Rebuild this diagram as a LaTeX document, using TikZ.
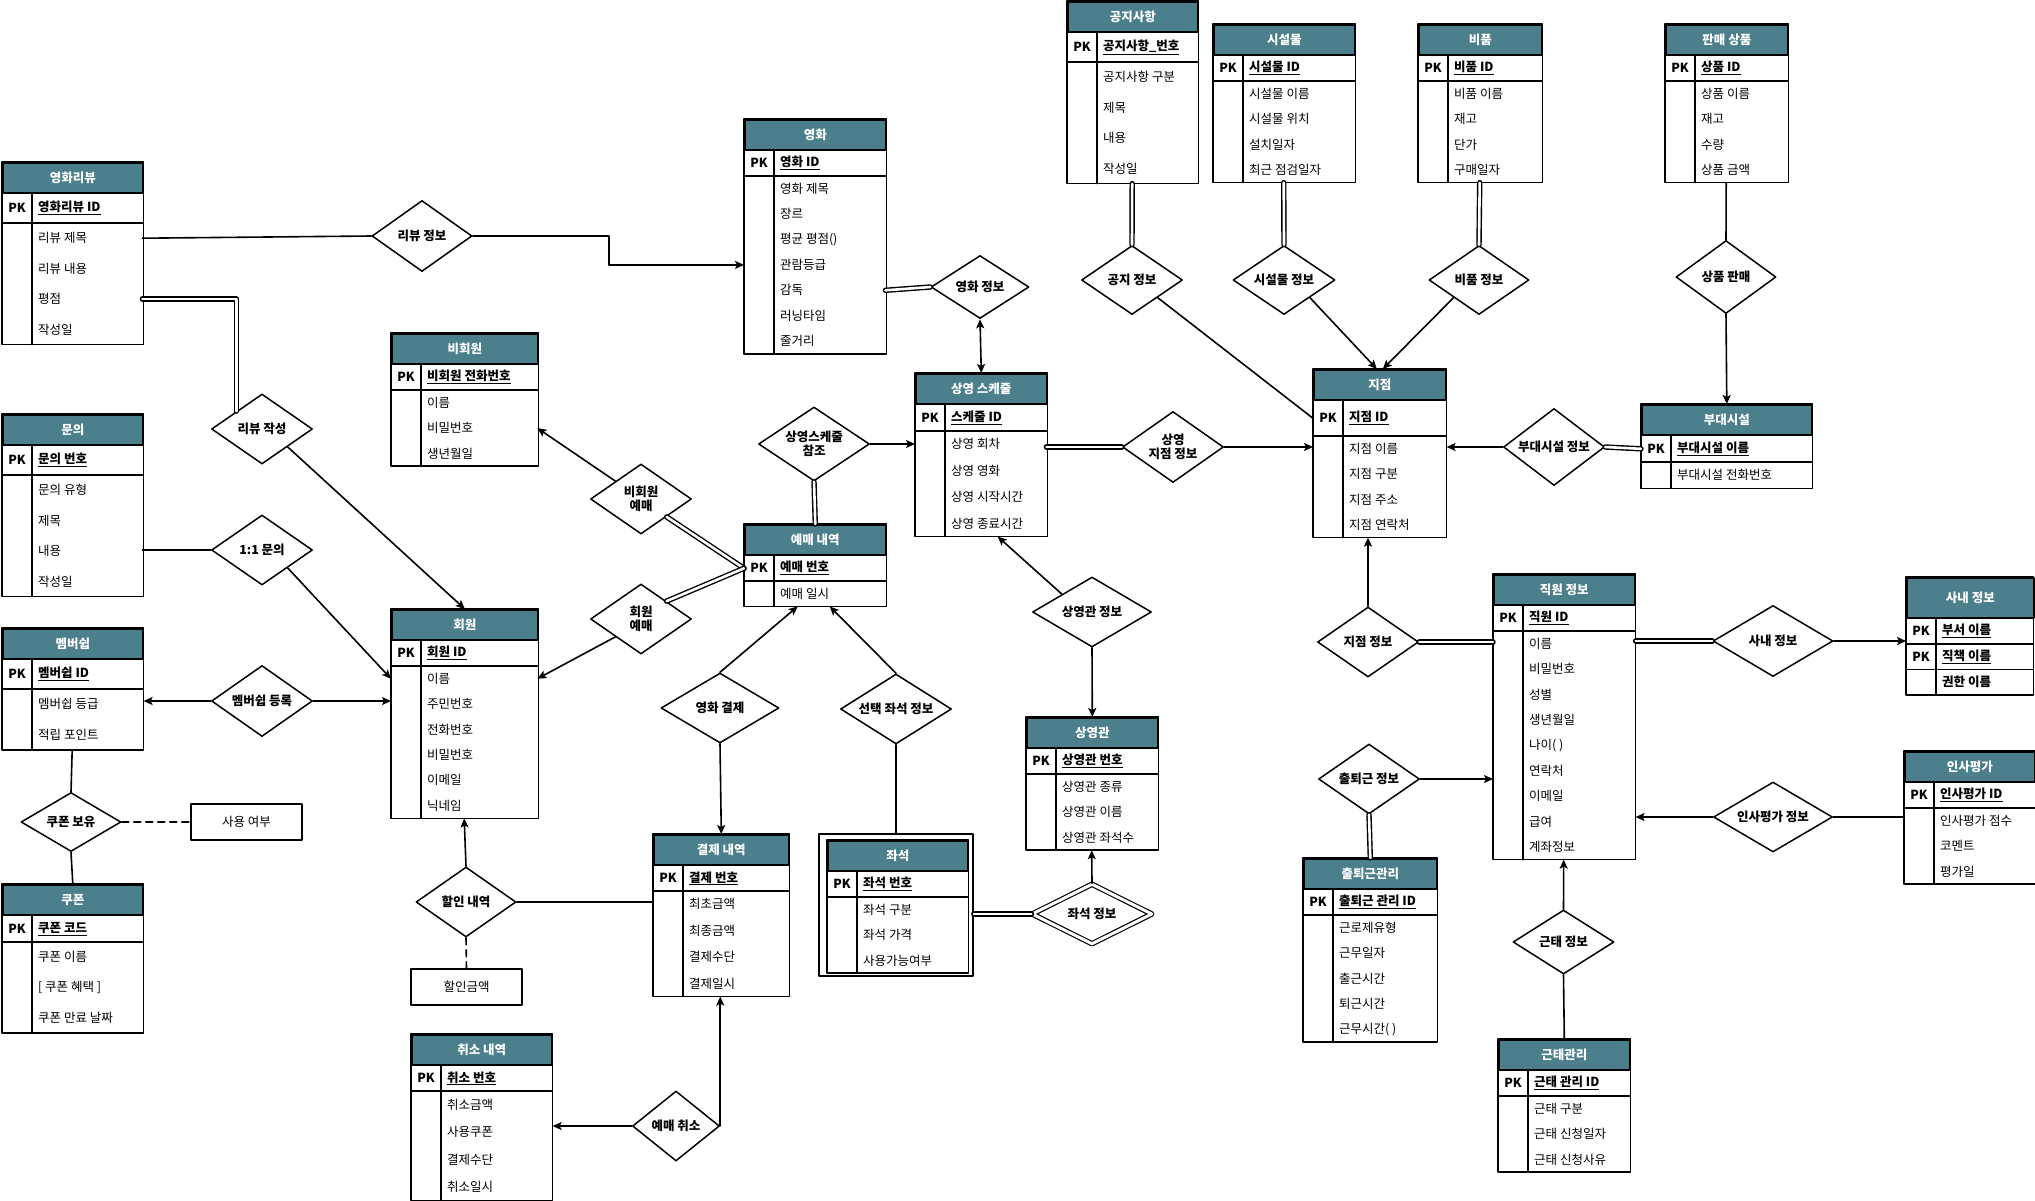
\documentclass[tikz,border=0pt]{standalone}
\usepackage{fontspec}
\setmainfont{Noto Sans CJK KR}
\usetikzlibrary{arrows.meta,shapes.geometric}
\definecolor{hdrteal}{HTML}{4A7F8B}

\begin{document}
\begin{tikzpicture}[x=1pt,y=-1pt,line cap=round,line join=round,
  >={Stealth[length=9pt,width=8pt,inset=2pt]},
  every node/.style={inner sep=0pt,font=\fontsize{12.5}{14.5}\selectfont},
  entline/.style={line width=1.6pt},
  enthead/.style={draw,entline,fill=hdrteal,text=white,font=\fontsize{12.5}{14.5}\selectfont\bfseries,minimum height=30pt,anchor=north west},
  cell/.style={anchor=north west},
  attr/.style={anchor=west},
  key/.style={anchor=west,font=\fontsize{12.5}{14.5}\selectfont\bfseries},
  pk/.style={font=\fontsize{12.5}{14.5}\selectfont\bfseries},
  rel/.style 2 args={diamond,draw,line width=1.5pt,fill=white,shape aspect=1.5,align=center,
    font=\fontsize{12.5}{14.5}\selectfont\bfseries,minimum width=#1pt,minimum height=#2pt},
  attrbox/.style={draw,line width=1.5pt,minimum width=111pt,minimum height=36pt},
  link/.style={line width=1.6pt},
  dbl/.style={line width=1.4pt,double,double distance=2.6pt},
  dashlink/.style={line width=1.6pt,dash pattern=on 7pt off 5pt}]
  \useasboundingbox (0,0) rectangle (2035,1200);
  \def\entity#1#2#3#4#5#6#7#8#9{%
    \node[enthead,minimum width=#4pt] (#1) at (#2,#3) {#7};
    \node[cell,minimum width=#4pt,minimum height=#5pt] (#1-k) at (#1.south west) {};
    \node[pk] (#1-p) at ([xshift=15pt]#1-k.west) {PK};
    \node[key] (#1-n) at ([xshift=36pt]#1-k.west) {\underline{#8}};
    \coordinate (#1-e) at (#1-k.south west);
    \foreach \a [count=\i] in {#9} {
      \node[cell,minimum width=#4pt,minimum height=#6pt] (#1-\i) at (#1-e) {};
      \node[attr] (#1-t\i) at ([xshift=36pt]#1-\i.west) {\a};
      \coordinate (#1-e) at (#1-\i.south west);
    }
    \draw[entline] (#1-k.south west) -- (#1-k.south east)
      ([xshift=30pt]#1-k.north west) -- ([xshift=30pt]#1-e)
      (#1.north west) rectangle (#1-e -| #1.east);
  }

  \entity{rev}{2}{162}{140}{29}{30}{영화리뷰}{영화리뷰 ID}{리뷰 제목,리뷰 내용,평점,작성일}
  \entity{mov}{744}{119}{141}{25}{25}{영화}{영화 ID}{영화 제목,장르,평균 평점(),관람등급,감독,러닝타임,줄거리}
  \entity{nmem}{391}{333}{146}{25}{25}{비회원}{비회원 전화번호}{이름,비밀번호,생년월일}
  \entity{inq}{2}{414}{140}{29}{30}{문의}{문의 번호}{문의 유형,제목,내용,작성일}
  \entity{mem}{391}{609}{146}{25}{25}{회원}{회원 ID}{이름,주민번호,전화번호,비밀번호,이메일,닉네임}
  \entity{ship}{2}{628}{140}{29}{30}{멤버쉽}{멤버쉽 ID}{멤버쉽 등급,적립 포인트}
  \entity{cpn}{2}{884}{140}{26}{30}{쿠폰}{쿠폰 코드}{쿠폰 이름,{[ 쿠폰 혜택 ]},쿠폰 만료 날짜}
  \entity{sched}{915}{373}{131}{26}{26}{상영 스케줄}{스케줄 ID}{상영 회차,상영 영화,상영 시작시간,상영 종료시간}
  \entity{book}{744}{524}{141}{25}{25}{예매 내역}{예매 번호}{예매 일시}
  \entity{pay}{653}{834}{135}{25}{26}{결제 내역}{결제 번호}{최초금액,최종금액,결제수단,결제일시}
  \node[draw,entline,minimum width=154pt,minimum height=142pt] (seatw) at (896,905) {};
  \entity{seat}{827}{840}{140}{25}{25}{좌석}{좌석 번호}{좌석 구분,좌석 가격,사용가능여부}
  \entity{hall}{1026}{717}{131}{25}{25}{상영관}{상영관 번호}{상영관 종류,상영관 이름,상영관 좌석수}
  \entity{brn}{1313}{369}{132}{35}{25}{지점}{지점 ID}{지점 이름,지점 구분,지점 주소,지점 연락처}
  \entity{notice}{1067}{1}{130}{29}{30}{공지사항}{공지사항\_번호}{공지사항 구분,제목,내용,작성일}
  \entity{fac}{1213}{24}{141}{25}{25}{시설물}{시설물 ID}{시설물 이름,시설물 위치,설치일자,최근 점검일자}
  \entity{item}{1418}{24}{123}{25}{25}{비품}{비품 ID}{비품 이름,재고,단가,구매일자}
  \entity{prod}{1665}{24}{122}{25}{25}{판매 상품}{상품 ID}{상품 이름,재고,수량,상품 금액}
  \entity{annex}{1641}{404}{170}{26}{26}{부대시설}{부대시설 이름}{부대시설 전화번호}
  \entity{emp}{1493}{574}{141}{25}{25}{직원 정보}{직원 ID}{이름,비밀번호,성별,생년월일,나이( ),연락처,이메일,급여,계좌정보}
  \entity{eval}{1904}{751}{130}{25}{25}{인사평가}{인사평가 ID}{인사평가 점수,코멘트,평가일}
  \entity{att}{1303}{858}{133}{25}{25}{출퇴근관리}{출퇴근 관리 ID}{근로제유형,근무일자,출근시간,퇴근시간,근무시간( )}
  \entity{lv}{1498}{1039}{131}{25}{25}{근태관리}{근태 관리 ID}{근태 구분,근태 신청일자,근태 신청사유}
  \entity{cancel}{411}{1034}{140}{25}{27}{취소 내역}{취소 번호}{취소금액,사용쿠폰,결제수단,취소일시}

  \node[enthead,minimum width=127pt,minimum height=40pt] (dept) at (1906,577) {사내 정보};
  \node[cell,minimum width=127pt,minimum height=25pt] (dept-1) at (dept.south west) {};
  \node[cell,minimum width=127pt,minimum height=25pt] (dept-2) at (dept-1.south west) {};
  \node[cell,minimum width=127pt,minimum height=25pt] (dept-3) at (dept-2.south west) {};
  \node[pk] (dept-p1) at ([xshift=15pt]dept-1.west) {PK};
  \node[pk] (dept-p2) at ([xshift=15pt]dept-2.west) {PK};
  \node[key] (dept-t1) at ([xshift=36pt]dept-1.west) {\underline{부서 이름}};
  \node[key] (dept-t2) at ([xshift=36pt]dept-2.west) {\underline{직책 이름}};
  \node[key] (dept-t3) at ([xshift=36pt]dept-3.west) {권한 이름};
  \draw[entline] (dept-1.south west) -- (dept-1.south east) (dept-2.south west) -- (dept-2.south east)
    ([xshift=30pt]dept-1.north west) -- ([xshift=30pt]dept-3.south west)
    (dept.north west) rectangle (dept-3.south east);

  \node[attrbox] (used) at (246.5,822) {사용 여부};
  \node[attrbox] (amt) at (466.5,987) {할인금액};

  \node[rel={100}{71}] (rinfo) at (422,236) {리뷰 정보};
  \node[rel={98}{63}] (minfo) at (980,287) {영화 정보};
  \node[rel={111}{74}] (sref) at (814,444) {상영스케줄\\참조};
  \node[rel={101}{70}] (nbook) at (641,499) {비회원\\예매};
  \node[rel={101}{70}] (mbook) at (641,619) {회원\\예매};
  \node[rel={118}{70}] (mpay) at (720,708) {영화 결제};
  \node[rel={111}{70}] (sseat) at (896,709) {선택 좌석 정보};
  \node[rel={120}{60},double,double distance=3pt,line width=1.2pt] (sinfo) at (1092,914) {좌석 정보};
  \node[rel={119}{70}] (hinfo) at (1092,612) {상영관 정보};
  \node[rel={101}{71}] (binfo) at (1173,447) {상영\\지점 정보};
  \node[rel={101}{69}] (ninfo) at (1132,280) {공지 정보};
  \node[rel={102}{69}] (finfo) at (1284,280) {시설물 정보};
  \node[rel={100}{69}] (iinfo) at (1479,280) {비품 정보};
  \node[rel={100}{73}] (sale) at (1726,277) {상품 판매};
  \node[rel={101}{77}] (ainfo) at (1554,447) {부대시설 정보};
  \node[rel={101}{70}] (brinfo) at (1368,642) {지점 정보};
  \node[rel={101}{70}] (cinfo) at (1369,779) {출퇴근 정보};
  \node[rel={120}{71}] (dinfo) at (1773,641) {사내 정보};
  \node[rel={119}{70}] (einfo) at (1773,817) {인사평가 정보};
  \node[rel={101}{64}] (linfo) at (1563.5,942) {근태 정보};
  \node[rel={101}{70}] (write) at (262,429) {리뷰 작성};
  \node[rel={101}{70}] (ask) at (262,550) {1:1 문의};
  \node[rel={101}{71}] (join) at (262,701) {멤버쉽 등록};
  \node[rel={100}{59}] (hold) at (71,822) {쿠폰 보유};
  \node[rel={100}{70}] (disc) at (466,902) {할인 내역};
  \node[rel={87}{70}] (cncl) at (676,1126) {예매 취소};

  \draw[link] (rev-1.east) -- (rinfo.west);
  \draw[link,->] (rinfo.east) -- ++(136,0) |- (mov-4.west);
  \draw[dbl] (mov-5.east) -- (minfo.west);
  \draw[link,<->] (minfo.south) -- (sched.north);
  \draw[link,->] (sref.east) -- (sref.east -| sched.west);
  \draw[dbl] (sref.south) -- (book.north);
  \draw[link,->] (nbook.north west) -- (nmem-2.east);
  \draw[dbl] (nbook.south east) -- (book-k.west);
  \draw[dbl] (mbook.north east) -- (book-k.west);
  \draw[link,->] (mbook.south west) -- (mem-1.east);
  \draw[link,->] (mpay.north) -- ([xshift=-17pt]book-1.south);
  \draw[link,->] (sseat.north) -- ([xshift=15pt]book-1.south);
  \draw[link,->] (mpay.south) -- (pay.north);
  \draw[link] (sseat.south) -- (seatw.north);
  \draw[dbl] (seatw.east |- sinfo.west) -- (sinfo.west);
  \draw[link,->] (sinfo.north) -- (hall-3.south);
  \draw[link,->] (hinfo.north west) -- ([xshift=17pt]sched-4.south);
  \draw[link,->] (hinfo.south) -- (hall.north);
  \draw[dbl] (sched-1.east |- binfo.west) -- (binfo.west);
  \draw[link,->] (binfo.east) -- (binfo.east -| brn.west);
  \draw[dbl] (notice-4.south) -- (ninfo.north);
  \draw[link] (ninfo.south east) -- (brn-k.west);
  \draw[dbl] (fac-4.south) -- (finfo.north);
  \draw[link,->] (finfo.south east) -- ([xshift=-3pt]brn.north);
  \draw[dbl] (item-4.south) -- (iinfo.north);
  \draw[link,->] (iinfo.south west) -- ([xshift=3pt]brn.north);
  \draw[link] (prod-4.south) -- (sale.north);
  \draw[link,->] (sale.south) -- (annex.north);
  \draw[dbl] (ainfo.east) -- (annex-k.west);
  \draw[link,->] (ainfo.west) -- (ainfo.west -| brn.east);
  \draw[link,->] (brinfo.north) -- (brinfo.north |- brn-4.south);
  \draw[dbl] (brinfo.east) -- (brinfo.east -| emp.west);
  \draw[link,->] (cinfo.east) -- (cinfo.east -| emp.west);
  \draw[dbl] (cinfo.south) -- (att.north);
  \draw[dbl] (dinfo.west -| emp.east) -- (dinfo.west);
  \draw[link,->] (dinfo.east) -- (dinfo.east -| dept.west);
  \draw[link] (einfo.east -| eval.west) -- (einfo.east);
  \draw[link,->] (einfo.west) -- (einfo.west -| emp.east);
  \draw[link,->] (linfo.north) -- (emp-9.south);
  \draw[link] (linfo.south) -- (lv.north);
  \draw[dbl] (rev-3.east) -| (write.north west);
  \draw[link,->] (write.south east) -- (mem.north);
  \draw[link] (inq-3.east |- ask.west) -- (ask.west);
  \draw[link,->] (ask.south east) -- (mem-1.west);
  \draw[link,->] (join.west) -- (join.west -| ship.east);
  \draw[link,->] (join.east) -- (join.east -| mem.west);
  \draw[link] (ship-2.south) -- (hold.north);
  \draw[dashlink] (hold.east) -- (used.west);
  \draw[link] (hold.south) -- (cpn.north);
  \draw[link,->] (disc.north) -- (mem-6.south);
  \draw[link] (disc.east) -- (disc.east -| pay.west);
  \draw[dashlink] (disc.south) -- (amt.north);
  \draw[link,->] (cncl.west) -- (cncl.west -| cancel.east);
  \draw[link,->] (cncl.east) -- (cncl.east |- pay-4.south);
\end{tikzpicture}
\end{document}
